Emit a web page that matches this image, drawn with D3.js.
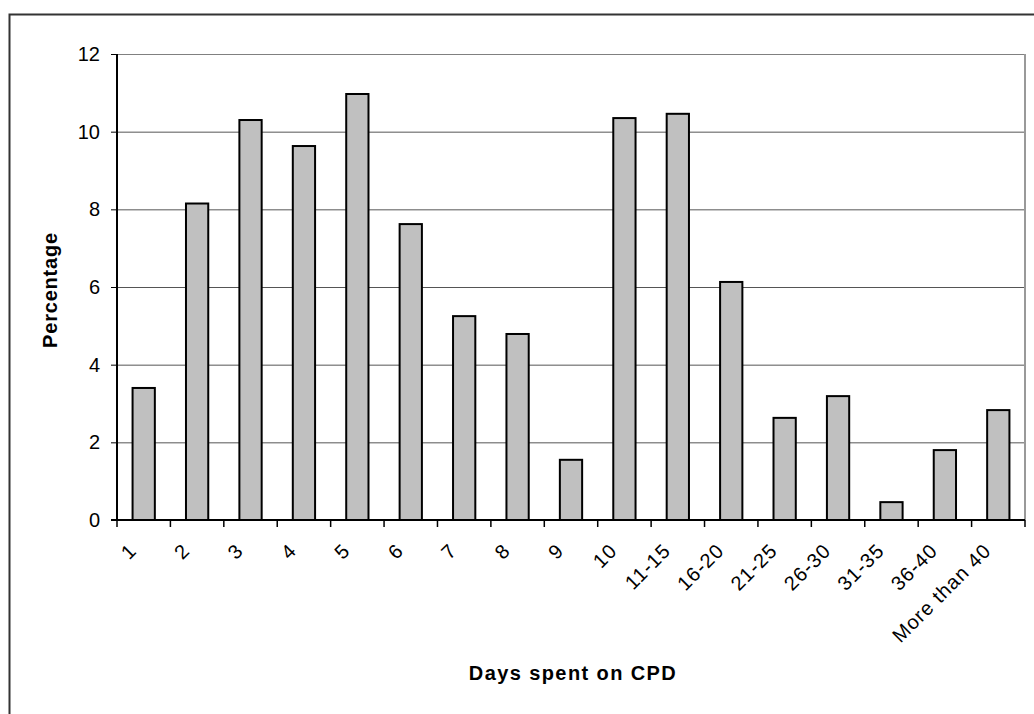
<!DOCTYPE html>
<html><head><meta charset="utf-8">
<script src="https://cdn.jsdelivr.net/npm/d3@7"></script>
<style>body{margin:0;background:#fff}svg{display:block}</style>
</head><body><svg id="c" width="1034" height="714"></svg>
<script>
const categories = ["1","2","3","4","5","6","7","8","9","10","11-15","16-20","21-25","26-30","31-35","36-40","More than 40"];
const percentages = [3.4,8.15,10.3,9.63,10.97,7.62,5.25,4.79,1.55,10.35,10.46,6.13,2.63,3.19,0.46,1.8,2.83];
const yTicks = [0,2,4,6,8,10,12];

const svg = d3.select("#c");
const L=117,R=1025,T=54,B=520;
const font="Arial, 'Liberation Sans', sans-serif";

svg.append("rect").attr("x",9.5).attr("y",14.5).attr("width",1040).attr("height",740)
  .attr("fill","none").attr("stroke","#333").attr("stroke-width",2);

const x=d3.scaleBand().domain(categories).range([L,R]).paddingInner(0.583).paddingOuter(0.2915);
const xb=d3.scaleBand().domain(categories).range([L,R]);
const y=d3.scaleLinear().domain([0,12]).range([B,T]);

// gridlines
svg.append("g").selectAll("line").data(yTicks.filter(d=>d>0)).join("line")
  .attr("x1",L).attr("x2",R).attr("y1",d=>y(d)+0.5).attr("y2",d=>y(d)+0.5)
  .attr("stroke",d=>d===12?"#808080":"#555").attr("stroke-width",1);
// right border
svg.append("line").attr("x1",R).attr("x2",R).attr("y1",T).attr("y2",B).attr("stroke","#999").attr("stroke-width",2);

// bars
svg.append("g").selectAll("rect").data(categories).join("rect")
  .attr("x",d=>x(d)).attr("width",x.bandwidth())
  .attr("y",(d,i)=>y(percentages[i])).attr("height",(d,i)=>B-y(percentages[i]))
  .attr("fill","#c0c0c0").attr("stroke","#000").attr("stroke-width",2);

// y axis
const ya=svg.append("g").attr("transform",`translate(${L},0)`)
  .call(d3.axisLeft(y).tickValues(yTicks).tickSize(6).tickPadding(11).tickFormat(d3.format("d")));
ya.select(".domain").attr("stroke","#000").attr("stroke-width",2).attr("d",`M0,${T}V${B}`);
ya.selectAll(".tick line").attr("stroke","#000");
ya.selectAll("text").attr("font-family",font).attr("font-size",20).attr("fill","#000");

// x axis
const xa=svg.append("g").attr("transform",`translate(0,${B})`);
xa.append("line").attr("x1",L-6).attr("x2",R).attr("y1",0).attr("y2",0).attr("stroke","#000").attr("stroke-width",2);
const bounds=categories.map(c=>xb(c)).concat([R]);
xa.selectAll("line.t").data(bounds).join("line").attr("class","t")
  .attr("x1",d=>d).attr("x2",d=>d).attr("y1",0).attr("y2",7).attr("stroke","#000").attr("stroke-width",1.5);
xa.selectAll("text").data(categories).join("text")
  .attr("transform",d=>`translate(${xb(d)+xb.bandwidth()/2-6},${32}) rotate(-45)`)
  .attr("text-anchor","end").attr("font-family",font).attr("font-size",20).attr("letter-spacing",1).attr("fill","#000")
  .text(d=>d);

// titles
svg.append("text").attr("x",573).attr("y",680).attr("text-anchor","middle")
  .attr("font-family",font).attr("font-weight","bold").attr("font-size",20).attr("letter-spacing",1.4)
  .text("Days spent on CPD");
svg.append("text").attr("transform","translate(57,290) rotate(-90)").attr("text-anchor","middle")
  .attr("font-family",font).attr("font-weight","bold").attr("font-size",20).attr("letter-spacing",0.8)
  .text("Percentage");
</script></body></html>
